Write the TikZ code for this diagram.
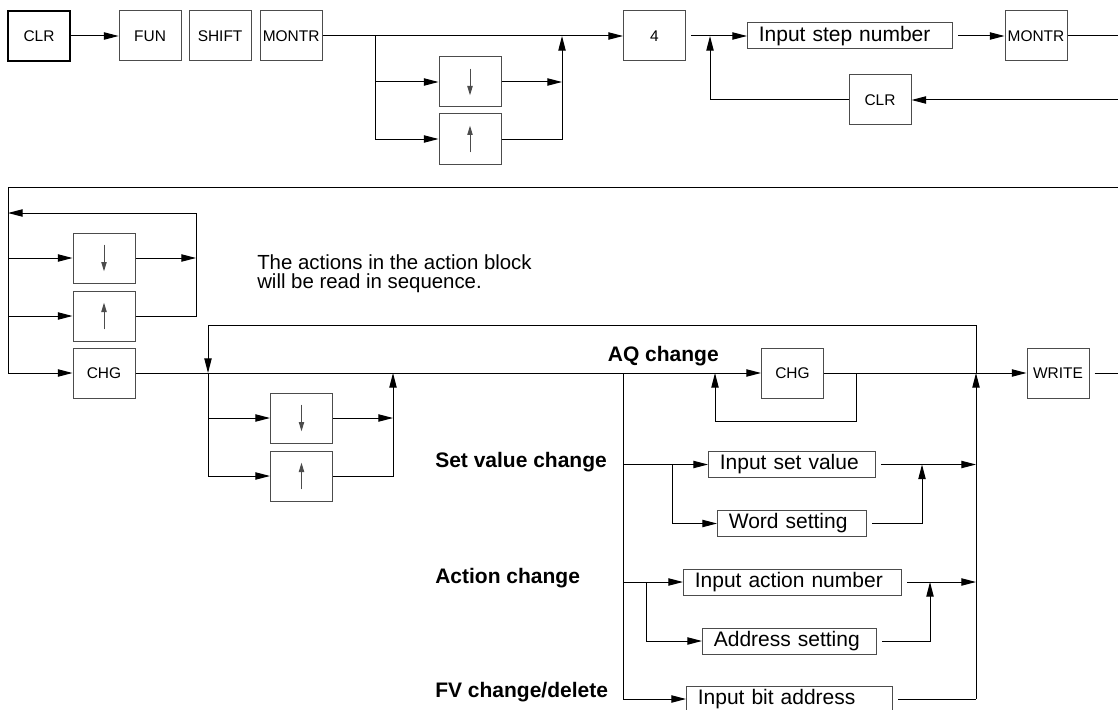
\documentclass[tikz,border=0pt]{standalone}
\usepackage{fontspec}
\setmainfont{Liberation Sans}
\usetikzlibrary{arrows.meta,positioning}
\definecolor{boxline}{gray}{0.3}
\tikzset{
  keybox/.style={draw=boxline, line width=0.75pt, minimum width=46.5pt, minimum height=37.5pt, inner sep=0pt, font=\fontsize{11.6}{13}\selectfont},
  entrybox/.style={draw=boxline, line width=0.75pt, anchor=west, minimum height=19.5pt, inner xsep=8.5pt, inner ysep=0pt, align=left, text width=#1, font=\fontsize{15.75}{18}\selectfont},
  downkey/.style={keybox, path picture={\draw[line width=0.75pt, -{Triangle[length=7pt,width=4pt]}] ([yshift=10pt]path picture bounding box.center) -- ([yshift=-10pt]path picture bounding box.center);}},
  upkey/.style={keybox, path picture={\draw[line width=0.75pt, -{Triangle[length=7pt,width=4pt]}] ([yshift=-10pt]path picture bounding box.center) -- ([yshift=10pt]path picture bounding box.center);}},
  flow/.style={-{Triangle[length=11pt,width=5.5pt]}, line width=0.75pt},
  wire/.style={line width=0.75pt},
  caplabel/.style={font=\bfseries\fontsize{15.75}{18}\selectfont, inner sep=0pt},
  notetext/.style={font=\fontsize{15.3}{14.4}\selectfont, inner sep=0pt, align=left}
}

\begin{document}
\begin{tikzpicture}[x=0.75pt, y=-0.75pt]
  \useasboundingbox (0,0) rectangle (1118,710);

  % Monitor start
  \node[keybox, draw=black, line width=0.9pt] (clr) at (39,36) {CLR};
  \node[keybox, right=36pt of clr] (fun) {FUN};
  \node[keybox, right=5.25pt of fun] (shift) {SHIFT};
  \node[keybox, right=6pt of shift] (montr) {MONTR};
  \node[downkey] (down) at (470,82) {};
  \node[upkey] (up) at (470,139) {};
  \node[keybox] (four) at (654.5,36) {4};
  \node[entrybox=136.75pt] (stepno) at (747,36) {Input step number};
  \node[keybox] (montrb) at (1036,36) {MONTR};
  \node[keybox] (clrb) at (880,100) {CLR};

  \coordinate (fork) at (375,36);
  \coordinate (forkdn) at (375,82);
  \coordinate (forkup) at (375,139);
  \coordinate (join) at (562,36);
  \coordinate (joindn) at (562,82);
  \coordinate (joinup) at (562,139);
  \coordinate (back) at (710,36);
  \coordinate (backlow) at (710,100);
  \coordinate (edgeA) at (1118,36);
  \coordinate (edgeB) at (1118,100);

  \draw[flow] (clr) -- (fun);
  \draw[flow] (montr) -- (four);
  \draw[wire] (fork) -- (forkup);
  \draw[flow] (forkdn) -- (down);
  \draw[flow] (forkup) -- (up);
  \draw[flow] (down) -- (joindn);
  \draw[flow] (up) -- (joinup) -- (join);
  \draw[flow, shorten <=3.75pt] (four) -- (stepno);
  \draw[flow] (clrb) -- (backlow) -- (back);
  \draw[flow, shorten <=3.75pt] (stepno) -- (montrb);
  \draw[wire] (montrb) -- (edgeA);
  \draw[flow] (edgeB) -- (clrb);

  % Step selection
  \node[downkey] (down2) at (104,258) {};
  \node[upkey] (up2) at (104,316) {};
  \node[keybox] (chg) at (104,373) {CHG};
  \node[notetext, anchor=north west] (note) at (257,254) {The actions in the action block\\will be read in sequence.};

  \coordinate (topR) at (1118,187);
  \coordinate (topL) at (8,187);
  \coordinate (ldn) at (8,258);
  \coordinate (lup) at (8,316);
  \coordinate (lchg) at (8,373);
  \coordinate (loopA) at (196,258);
  \coordinate (loopB) at (196,316);
  \coordinate (loopC) at (196,213);
  \coordinate (loopD) at (8,213);

  \draw[wire] (topR) -- (topL) -- (lchg);
  \draw[flow] (lchg) -- (chg);
  \draw[flow] (ldn) -- (down2);
  \draw[flow] (lup) -- (up2);
  \draw[flow] (down2) -- (loopA);
  \draw[flow] (up2) -- (loopB) -- (loopC) -- (loopD);

  % Action block
  \node[downkey] (down3) at (301.5,418) {};
  \node[upkey] (up3) at (301.5,476) {};
  \node[keybox] (chgb) at (792.5,373) {CHG};
  \node[keybox] (write) at (1058,373) {WRITE};
  \node[caplabel, anchor=base east] (aq) at (719,361) {AQ change};

  \coordinate (blkL) at (208,373);
  \coordinate (blkTL) at (208,325);
  \coordinate (blkTR) at (976,325);
  \coordinate (blkR) at (976,373);
  \coordinate (blkBR) at (976,699);
  \coordinate (idn) at (208,418);
  \coordinate (iup) at (208,476);
  \coordinate (ojn) at (393,373);
  \coordinate (ojdn) at (393,418);
  \coordinate (ojup) at (393,476);
  \coordinate (aqsplit) at (623,373);
  \coordinate (aqbot) at (623,699);
  \coordinate (aqret) at (715,373);
  \coordinate (aqretlow) at (715,421);
  \coordinate (chgout) at (856,373);
  \coordinate (chgoutlow) at (856,421);
  \coordinate (edgeC) at (1118,373);

  \draw[flow] (chg) -- (chgb);
  \draw[flow] (chgb) -- (write);
  \draw[wire, shorten <=3.75pt] (write) -- (edgeC);
  \draw[flow] (blkBR) -- (blkR);
  \draw[flow] (blkR) -- (blkTR) -- (blkTL) -- (blkL);
  \draw[wire] (blkL) -- (iup);
  \draw[flow] (idn) -- (down3);
  \draw[flow] (iup) -- (up3);
  \draw[flow] (down3) -- (ojdn);
  \draw[flow] (up3) -- (ojup) -- (ojn);
  \draw[wire] (aqsplit) -- (aqbot);
  \draw[flow] (chgout) -- (chgoutlow) -- (aqretlow) -- (aqret);

  % Set value change
  \node[caplabel, anchor=base west] (svlabel) at (435,467) {Set value change};
  \node[entrybox=108.25pt] (setval) at (708,464.5) {Input set value};
  \node[entrybox=94.75pt] (word) at (717,523.5) {Word setting};
  \coordinate (svin) at (623,464.5);
  \coordinate (svfork) at (672,464.5);
  \coordinate (svforklow) at (672,523.5);
  \coordinate (svjoin) at (922,464.5);
  \coordinate (svjoinlow) at (922,523.5);
  \coordinate (svout) at (976,464.5);
  \draw[flow] (svin) -- (setval);
  \draw[flow] (svfork) -- (svforklow) -- (word);
  \draw[flow, shorten <=3.75pt] (setval) -- (svout);
  \draw[flow, shorten <=3.75pt] (word) -- (svjoinlow) -- (svjoin);

  % Action change
  \node[caplabel, anchor=base west] (aclabel) at (435,583) {Action change};
  \node[entrybox=146.5pt] (actno) at (683,582) {Input action number};
  \node[entrybox=113.5pt] (addr) at (702,641) {Address setting};
  \coordinate (acin) at (623,582);
  \coordinate (acfork) at (646,582);
  \coordinate (acforklow) at (646,641);
  \coordinate (acjoin) at (930,582);
  \coordinate (acjoinlow) at (930,641);
  \coordinate (acout) at (976,582);
  \draw[flow] (acin) -- (actno);
  \draw[flow] (acfork) -- (acforklow) -- (addr);
  \draw[flow, shorten <=3.75pt] (actno) -- (acout);
  \draw[flow, shorten <=3.75pt] (addr) -- (acjoinlow) -- (acjoin);

  % FV change/delete
  \node[caplabel, anchor=base west] (fvlabel) at (435,697) {FV change/delete};
  \node[entrybox=137.5pt] (bitaddr) at (686,699) {Input bit address};
  \draw[flow] (aqbot) -- (bitaddr);
  \draw[wire, shorten <=3.75pt] (bitaddr) -- (blkBR);
\end{tikzpicture}
\end{document}
